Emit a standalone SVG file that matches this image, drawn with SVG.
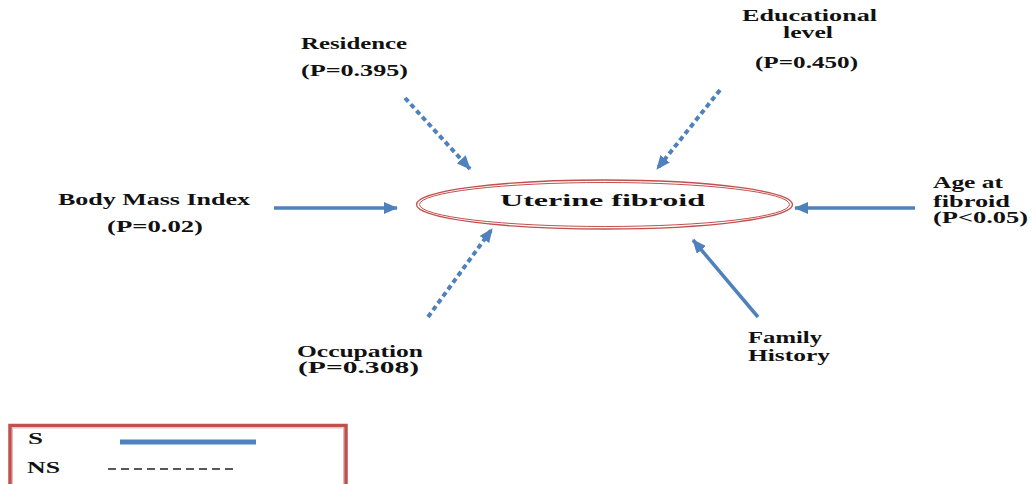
<svg xmlns="http://www.w3.org/2000/svg" width="1033" height="484" viewBox="0 0 1033 484">
<style>
text{font-family:"Liberation Serif","Times New Roman",serif;font-weight:bold;font-size:16px;fill:#111}
.c{stroke:#4F81BD;stroke-width:3.5;fill:none}
.d{stroke-width:4;stroke-dasharray:5 3.5}
.red{stroke:#C0504D;fill:none}
</style>
<defs>
<marker id="ah" markerUnits="userSpaceOnUse" markerWidth="14" markerHeight="12" viewBox="0 0 14 12" refX="13" refY="6" orient="auto">
<path d="M0,0 L14,6 L0,12 Z" fill="#4F81BD"/>
</marker>
</defs>
<g id="connectors">
<line class="c d" x1="405" y1="98" x2="470" y2="169" marker-end="url(#ah)"/>
<line class="c d" x1="720" y1="90" x2="657" y2="169" marker-end="url(#ah)"/>
<line class="c" x1="274" y1="208" x2="397" y2="208" marker-end="url(#ah)"/>
<line class="c" x1="915" y1="208" x2="795" y2="208" marker-end="url(#ah)"/>
<line class="c d" x1="428" y1="317" x2="492" y2="229" marker-end="url(#ah)"/>
<line class="c" x1="758" y1="317" x2="693" y2="240" marker-end="url(#ah)"/>
</g>
<g id="uterine">
<ellipse class="red" cx="604.5" cy="204.5" rx="188" ry="24.5" stroke-width="1.3"/>
<ellipse class="red" cx="604.5" cy="204.5" rx="185" ry="22" stroke-width="1"/>
<text x="500" y="206" font-size="20" textLength="205" lengthAdjust="spacingAndGlyphs">Uterine fibroid</text>
</g>
<g id="residence">
<text x="301" y="49" textLength="106" lengthAdjust="spacingAndGlyphs">Residence</text>
<text x="301" y="76" textLength="107" lengthAdjust="spacingAndGlyphs">(P=0.395)</text>
</g>
<g id="education">
<text x="742" y="21" textLength="135" lengthAdjust="spacingAndGlyphs">Educational</text>
<text x="783" y="38" textLength="50" lengthAdjust="spacingAndGlyphs">level</text>
<text x="755" y="68" textLength="103" lengthAdjust="spacingAndGlyphs">(P=0.450)</text>
</g>
<g id="bmi">
<text x="58" y="205" textLength="192" lengthAdjust="spacingAndGlyphs">Body Mass Index</text>
<text x="107" y="232" textLength="96" lengthAdjust="spacingAndGlyphs">(P=0.02)</text>
</g>
<g id="age">
<text x="933" y="188" textLength="70" lengthAdjust="spacingAndGlyphs">Age at</text>
<text x="933" y="207" textLength="77" lengthAdjust="spacingAndGlyphs">fibroid</text>
<text x="933" y="223" textLength="95" lengthAdjust="spacingAndGlyphs">(P&lt;0.05)</text>
</g>
<g id="occupation">
<text x="297" y="357" textLength="126" lengthAdjust="spacingAndGlyphs">Occupation</text>
<text x="298" y="373" textLength="121" lengthAdjust="spacingAndGlyphs">(P=0.308)</text>
</g>
<g id="family">
<text x="748" y="343" textLength="74" lengthAdjust="spacingAndGlyphs">Family</text>
<text x="748" y="361" textLength="82" lengthAdjust="spacingAndGlyphs">History</text>
</g>
<g id="legend">
<rect class="red" x="10" y="425.5" width="336" height="62" stroke-width="3.5"/>
<rect x="12.5" y="428" width="331" height="60" fill="none" stroke="#E6B9B8" stroke-width="1"/>
<text x="28" y="444" textLength="15" lengthAdjust="spacingAndGlyphs">S</text>
<line x1="120" y1="442" x2="256" y2="442" stroke="#4F81BD" stroke-width="5"/>
<text x="27" y="473" textLength="33" lengthAdjust="spacingAndGlyphs">NS</text>
<line x1="108" y1="469" x2="235" y2="469" stroke="#222" stroke-width="1.3" stroke-dasharray="8 5"/>
</g>
</svg>
